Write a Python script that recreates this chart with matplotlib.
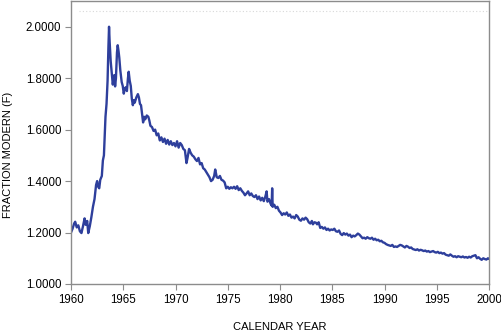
import matplotlib
matplotlib.use("Agg")
import matplotlib.pyplot as plt
from matplotlib.ticker import FormatStrFormatter

years = [
    1960.00, 1960.15, 1960.30, 1960.40, 1960.55, 1960.70, 1960.85, 1961.00, 1961.15, 1961.30,
    1961.40, 1961.55, 1961.65, 1961.80, 1961.95, 1962.10, 1962.25, 1962.40, 1962.50, 1962.60,
    1962.70, 1962.80, 1962.95, 1963.05, 1963.15, 1963.30, 1963.40, 1963.50, 1963.58, 1963.64,
    1963.70, 1963.80, 1963.90, 1964.00, 1964.08, 1964.15, 1964.22, 1964.30, 1964.40, 1964.47,
    1964.55, 1964.62, 1964.72, 1964.85, 1964.95, 1965.05, 1965.15, 1965.25, 1965.35, 1965.45,
    1965.52, 1965.62, 1965.72, 1965.82, 1965.92, 1966.00, 1966.10, 1966.25, 1966.40, 1966.50,
    1966.60, 1966.70, 1966.80, 1966.90, 1967.00, 1967.10, 1967.25, 1967.40, 1967.50, 1967.60,
    1967.75, 1967.90, 1968.05, 1968.20, 1968.35, 1968.50, 1968.65, 1968.80, 1968.95, 1969.10,
    1969.25, 1969.40, 1969.55, 1969.70, 1969.85, 1970.00, 1970.15, 1970.30, 1970.45, 1970.60,
    1970.75, 1970.90, 1971.05, 1971.15, 1971.30, 1971.45, 1971.60, 1971.75, 1971.90, 1972.05,
    1972.20, 1972.35, 1972.50, 1972.65, 1972.80, 1972.95, 1973.10, 1973.25, 1973.40, 1973.55,
    1973.70, 1973.80, 1973.95, 1974.10, 1974.25, 1974.40, 1974.55, 1974.70, 1974.85, 1975.00,
    1975.15, 1975.30, 1975.45, 1975.60, 1975.75, 1975.90, 1976.05, 1976.20, 1976.35, 1976.50,
    1976.65, 1976.80, 1976.95, 1977.10, 1977.25, 1977.40, 1977.55, 1977.70, 1977.85, 1978.00,
    1978.15, 1978.30, 1978.45, 1978.60, 1978.72, 1978.80, 1978.95, 1979.10, 1979.20, 1979.25,
    1979.30, 1979.45, 1979.60, 1979.75, 1979.90, 1980.05, 1980.20, 1980.35, 1980.50, 1980.65,
    1980.80, 1980.95, 1981.10, 1981.25, 1981.40, 1981.55, 1981.70, 1981.85, 1982.00, 1982.15,
    1982.30, 1982.45, 1982.60, 1982.75, 1982.90, 1983.05, 1983.15, 1983.30, 1983.45, 1983.55,
    1983.70, 1983.85, 1984.00, 1984.15, 1984.30, 1984.45, 1984.60, 1984.75, 1984.90, 1985.05,
    1985.20, 1985.35, 1985.50, 1985.65, 1985.80, 1985.95, 1986.10, 1986.25, 1986.40, 1986.55,
    1986.70, 1986.85, 1987.00, 1987.15, 1987.30, 1987.45, 1987.60, 1987.75, 1987.90, 1988.05,
    1988.20, 1988.35, 1988.50, 1988.65, 1988.80, 1988.95, 1989.10, 1989.25, 1989.40, 1989.55,
    1989.70, 1989.85, 1990.00, 1990.15, 1990.30, 1990.45, 1990.60, 1990.75, 1990.90, 1991.05,
    1991.20, 1991.35, 1991.50, 1991.65, 1991.80, 1991.95, 1992.10, 1992.25, 1992.40, 1992.55,
    1992.70, 1992.85, 1993.00, 1993.15, 1993.30, 1993.45, 1993.60, 1993.75, 1993.90, 1994.05,
    1994.20, 1994.35, 1994.50, 1994.65, 1994.80, 1994.95, 1995.10, 1995.25, 1995.40, 1995.55,
    1995.70, 1995.85, 1996.00, 1996.15, 1996.30, 1996.45, 1996.60, 1996.75, 1996.90, 1997.05,
    1997.20, 1997.35, 1997.50, 1997.65, 1997.80, 1997.95, 1998.10, 1998.25, 1998.40, 1998.55,
    1998.70, 1998.85, 1999.00, 1999.15, 1999.30, 1999.45, 1999.60, 1999.75, 1999.90, 2000.00,
]

fraction_modern = [
    1.200, 1.215, 1.235, 1.242, 1.220, 1.228, 1.205, 1.198, 1.225, 1.255,
    1.230, 1.245, 1.198, 1.225, 1.260, 1.300, 1.330, 1.385, 1.400, 1.378,
    1.372, 1.405, 1.420, 1.480, 1.500, 1.650, 1.700, 1.790, 1.920, 2.000,
    1.940, 1.865, 1.820, 1.775, 1.800, 1.812, 1.768, 1.800, 1.900, 1.928,
    1.905, 1.880, 1.830, 1.785, 1.770, 1.740, 1.760, 1.765, 1.750, 1.800,
    1.825, 1.790, 1.770, 1.720, 1.695, 1.715, 1.705, 1.725, 1.738, 1.725,
    1.700, 1.695, 1.660, 1.628, 1.650, 1.640, 1.655, 1.650, 1.635, 1.615,
    1.610, 1.595, 1.600, 1.578, 1.585, 1.558, 1.570, 1.552, 1.565, 1.545,
    1.560, 1.542, 1.555, 1.540, 1.548, 1.535, 1.555, 1.530, 1.548, 1.540,
    1.525, 1.520, 1.470, 1.490, 1.525, 1.510, 1.500, 1.495, 1.485, 1.478,
    1.490, 1.465, 1.470, 1.450, 1.445, 1.435, 1.425, 1.415, 1.400, 1.405,
    1.420, 1.445, 1.415, 1.412, 1.420, 1.405, 1.402, 1.395, 1.372, 1.378,
    1.370, 1.376, 1.372, 1.378, 1.370, 1.380, 1.365, 1.372, 1.362, 1.355,
    1.345, 1.352, 1.360, 1.345, 1.352, 1.342, 1.338, 1.345, 1.330, 1.340,
    1.325, 1.335, 1.322, 1.340, 1.360, 1.320, 1.330, 1.312, 1.305, 1.372,
    1.300, 1.308, 1.295, 1.300, 1.285, 1.278, 1.268, 1.275, 1.270, 1.278,
    1.265, 1.270, 1.258, 1.262, 1.255, 1.268, 1.262, 1.250, 1.246, 1.255,
    1.250, 1.258, 1.252, 1.240, 1.235, 1.245, 1.232, 1.240, 1.238, 1.232,
    1.240, 1.218, 1.222, 1.215, 1.220, 1.210, 1.215, 1.208, 1.212, 1.210,
    1.215, 1.205, 1.203, 1.208, 1.195, 1.190, 1.198, 1.192, 1.196, 1.188,
    1.192, 1.182, 1.188, 1.185, 1.190, 1.196, 1.192, 1.185, 1.178, 1.180,
    1.176, 1.182, 1.178, 1.176, 1.180, 1.172, 1.176, 1.170, 1.172, 1.166,
    1.168, 1.162, 1.160, 1.155, 1.152, 1.150, 1.148, 1.152, 1.144, 1.146,
    1.144, 1.148, 1.152, 1.150, 1.146, 1.142, 1.148, 1.145, 1.140, 1.142,
    1.136, 1.134, 1.132, 1.135, 1.130, 1.133, 1.131, 1.128, 1.130, 1.126,
    1.128, 1.124, 1.126, 1.128, 1.124, 1.122, 1.125, 1.120, 1.122, 1.118,
    1.120, 1.114, 1.112, 1.110, 1.115, 1.110, 1.106, 1.108, 1.104, 1.108,
    1.106, 1.104, 1.107, 1.103, 1.105, 1.102, 1.106, 1.103, 1.108, 1.110,
    1.112, 1.100, 1.104, 1.098, 1.094, 1.100, 1.097, 1.095, 1.100, 1.098,
]

x_ticks = [1960, 1965, 1970, 1975, 1980, 1985, 1990, 1995, 2000]
y_ticks = [1.0, 1.2, 1.4, 1.6, 1.8, 2.0]

plt.rcParams['font.family'] = ['Liberation Sans', 'DejaVu Sans']

fig = plt.figure(figsize=(5.01, 3.34), dpi=100)
ax = fig.add_axes([71 / 501, 50 / 334, (489 - 71) / 501, (333 - 50) / 334])

ax.plot(years, fraction_modern, color='#2e3f9c', linewidth=1.7, solid_joinstyle='round')
ax.axhline(2.062, color='#d8d8d8', linewidth=0.8, linestyle=(0, (1, 2)), xmin=0.02, xmax=0.995)

ax.set_xlim(1960, 2000)
ax.set_ylim(1.0, 2.1)
ax.set_xticks(x_ticks)
ax.set_yticks(y_ticks)
ax.yaxis.set_major_formatter(FormatStrFormatter('%.4f'))

for s in ax.spines.values():
    s.set_color('#8c8c8c')
    s.set_linewidth(1.0)

ax.tick_params(axis='both', direction='out', length=4, width=0.8, color='#8c8c8c',
               labelsize=8.3, pad=3, labelcolor='black')

fig.text(280 / 501, (334 - 327) / 334, 'CALENDAR YEAR', fontsize=8,
         ha='center', va='center')
fig.text(8 / 501, (334 - 155) / 334, 'FRACTION MODERN (F)', fontsize=8,
         ha='center', va='center', rotation=90)

fig.savefig('out.png', dpi=100)
